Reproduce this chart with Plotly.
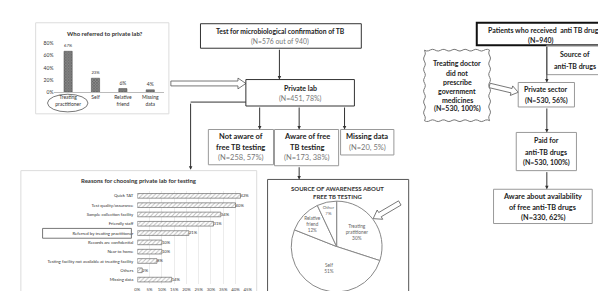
import math
import plotly.graph_objects as go

# ---------------- data ----------------
ref_categories = ["Treating<br>practitioner", "Self", "Relative<br>friend", "Missing<br>data"]
ref_values = [67, 23, 6, 4]
ref_ticks = [0, 20, 40, 60, 80]

reason_categories = [
    "Quick TAT",
    "Test quality/assurance",
    "Sample collection facility",
    "Friendly staff",
    "Referred by treating practitioner",
    "Records are confidential",
    "Near to home",
    "Testing facility not available at treating facility",
    "Others",
    "Missing data",
]
reason_values = [42, 40, 34, 31, 21, 10, 10, 8, 2, 14]
reason_ticks = [0, 5, 10, 15, 20, 25, 30, 35, 40, 45]

source_labels = ["Treating<br>pratitioner", "Self", "Relative<br>friend", "Other"]
source_values = [30, 51, 12, 7]

W, H = 606, 291
FONT = "Lato"

fig = go.Figure()

# ---------------- charts ----------------
fig.add_trace(go.Bar(
    x=ref_categories, y=ref_values, xaxis="x2", yaxis="y2", width=0.3,
    marker=dict(color="#8a8a8a", line=dict(color="#444", width=0.5),
                pattern=dict(shape="x", fgcolor="#333", size=2, solidity=0.5)),
    text=[f"{v}%" for v in ref_values], textposition="outside",
    textfont=dict(size=5, color="#333", family=FONT), cliponaxis=False,
    showlegend=False, hoverinfo="skip",
))

fig.add_trace(go.Bar(
    y=reason_categories, x=reason_values, orientation="h", xaxis="x3", yaxis="y3",
    width=0.5,
    marker=dict(color="white", line=dict(color="#555", width=0.6),
                pattern=dict(shape="/", fgcolor="#777", size=3, solidity=0.3)),
    text=[f"{v}%" for v in reason_values], textposition="outside",
    textfont=dict(size=4.5, color="#333", family=FONT), cliponaxis=False,
    showlegend=False, hoverinfo="skip",
))

fig.add_trace(go.Pie(
    labels=source_labels, values=source_values, sort=False, direction="clockwise",
    rotation=0, text=[f"{l}<br>{v}%" for l, v in zip(source_labels, source_values)],
    textinfo="text", textposition="inside", insidetextorientation="horizontal",
    textfont=dict(size=4.8, color="#666", family=FONT),
    marker=dict(colors=["white"] * 4, line=dict(color="#888", width=1)),
    domain=dict(x=[284 / W, 376 / W], y=[1 - 287 / H, 1 - 194 / H]),
    showlegend=False, hoverinfo="skip",
))

shapes = []
annotations = []


def rect(x0, y0, x1, y1, color="#999", width=1):
    shapes.append(dict(type="rect", xref="x", yref="y", x0=x0, y0=y0, x1=x1, y1=y1,
                       line=dict(color=color, width=width), fillcolor="rgba(0,0,0,0)",
                       layer="above"))


def line(x0, y0, x1, y1, color="#333", width=1):
    shapes.append(dict(type="line", xref="x", yref="y", x0=x0, y0=y0, x1=x1, y1=y1,
                       line=dict(color=color, width=width), layer="above"))


def arrow(x0, y0, x1, y1):
    annotations.append(dict(x=x1, y=y1, ax=x0, ay=y0, xref="x", yref="y", axref="x",
                            ayref="y", showarrow=True, arrowhead=2, arrowsize=0.7,
                            arrowwidth=1, arrowcolor="#333", text=""))


def hollow_arrow(x0, y0, x1, y1, sw=2.5, hw=5.5, hl=8):
    dx, dy = x1 - x0, y1 - y0
    L = math.hypot(dx, dy)
    ux, uy = dx / L, dy / L
    px, py = -uy, ux
    bx, by = x1 - ux * hl, y1 - uy * hl
    pts = [
        (x0 + px * sw, y0 + py * sw), (bx + px * sw, by + py * sw),
        (bx + px * hw, by + py * hw), (x1, y1),
        (bx - px * hw, by - py * hw), (bx - px * sw, by - py * sw),
        (x0 - px * sw, y0 - py * sw),
    ]
    path = "M" + " L".join(f"{a:.2f},{b:.2f}" for a, b in pts) + " Z"
    shapes.append(dict(type="path", xref="x", yref="y", path=path,
                       line=dict(color="#555", width=0.8), fillcolor="white", layer="above"))


def wavy_rect(x0, y0, x1, y1, amp=0.9, wl=11):
    pts = []
    def edge(ax, ay, bx, by):
        L = math.hypot(bx - ax, by - ay)
        n = max(int(L / 2), 2)
        nx, ny = -(by - ay) / L, (bx - ax) / L
        for i in range(n):
            t = i / n
            s = amp * math.sin(2 * math.pi * t * L / wl)
            pts.append((ax + (bx - ax) * t + nx * s, ay + (by - ay) * t + ny * s))
    edge(x0, y0, x1, y0)
    edge(x1, y0, x1, y1)
    edge(x1, y1, x0, y1)
    edge(x0, y1, x0, y0)
    path = "M" + " L".join(f"{a:.2f},{b:.2f}" for a, b in pts) + " Z"
    shapes.append(dict(type="path", xref="x", yref="y", path=path,
                       line=dict(color="#777", width=1), fillcolor="rgba(0,0,0,0)",
                       layer="above"))


def text(x, y, s, size=7, bold=True, color="#222", xanchor="center"):
    if bold:
        s = f"<b>{s}</b>"
    annotations.append(dict(x=x, y=y, xref="x", yref="y", text=s, showarrow=False,
                            xanchor=xanchor, yanchor="middle",
                            font=dict(size=size, color=color, family=FONT)))


# ---------------- left / middle flowchart ----------------
rect(25, 12, 160, 105, "#dcdcdc")
text(95, 23, "Who referred to private lab?", 6, True, "#333")
shapes.append(dict(type="circle", xref="x", yref="y", x0=37, y0=85, x1=78, y1=103,
                   line=dict(color="#555", width=0.8), layer="above"))

hollow_arrow(162, 74, 238, 74)

rect(192, 13, 355, 38, "#333", 1)
text(273, 20, "Test for microbiological confirmation of TB", 6.8)
text(273, 31, "(N=576 out of 940)", 6.8, False, "#777")
arrow(272, 38, 272, 70)

rect(238, 70, 348, 97, "#333", 1)
text(293, 79, "Private lab", 7)
text(293, 89.5, "(N=451, 78%)", 7, False, "#777")

line(238, 93, 182, 93)
arrow(182, 93, 182, 162)
arrow(252, 97, 252, 121)
arrow(292, 97, 292, 121)
arrow(338, 97, 338, 121)

rect(200, 121, 266, 157)
text(233, 128, "Not aware of", 7.5)
text(233, 139, "free TB testing", 7.5)
text(233, 150, "(N=258, 57%)", 7.5, False, "#777")

rect(267, 121, 332, 158)
text(299.5, 128, "Aware of free", 7.5)
text(299.5, 139, "TB testing", 7.5)
text(299.5, 150, "(N=173, 38%)", 7.5, False, "#777")

rect(334, 121, 388, 147)
text(361, 128, "Missing data", 7.5)
text(361, 139, "(N=20, 5%)", 7.5, False, "#777")

arrow(292, 158, 292, 172)

# reasons panel
rect(10, 163, 249, 300, "#dcdcdc")
text(130, 173, "Reasons for choosing private lab for testing", 6, True, "#333")
rect(32, 222, 122, 232, "#555", 0.8)

# pie panel
rect(260, 172, 403, 300, "#555", 1)
text(331, 181, "SOURCE OF AWARENESS ABOUT", 6, True, "#333")
text(331, 189.5, "FREE TB TESTING", 6, True, "#333")
hollow_arrow(394, 196, 367, 212, sw=2.5, hw=5.5, hl=8)

# ---------------- right flowchart ----------------
rect(472, 12, 616, 35, "#111", 2)
text(541, 19, "Patients who received  anti TB drugs", 7)
text(537, 30, "(N=940)", 7)

rect(543, 35, 600, 65)
text(571.5, 44, "Source of", 7)
text(571.5, 56, "anti-TB drugs", 7)
arrow(543, 35, 543, 73)

wavy_rect(419, 40, 485, 112)
for yy, s in zip([53, 63, 73, 82, 91, 100],
                 ["Treating doctor", "did not", "prescribe", "government", "medicines",
                  "(N=530, 100%)"]):
    text(452, yy, s, 7)

hollow_arrow(485, 76, 514, 83, sw=2.3, hw=5, hl=7)

rect(514, 73, 571, 98)
text(542.5, 80, "Private sector", 7)
text(542.5, 91, "(N=530, 56%)", 7)
arrow(543, 98, 543, 124)

rect(512, 124, 573, 163)
text(542.5, 132, "Paid for", 7)
text(542.5, 143.5, "anti-TB drugs", 7)
text(542.5, 155, "(N=530, 100%)", 7)
arrow(543, 163, 543, 182)

rect(489, 182, 589, 217)
text(539, 189.5, "Aware about availability", 7.3)
text(539, 200.5, "of free anti-TB drugs", 7.3)
text(539, 211, "(N=330, 62%)", 7.3)

fig.update_layout(
    width=W, height=H, margin=dict(l=0, r=0, t=0, b=0),
    paper_bgcolor="white", plot_bgcolor="rgba(0,0,0,0)",
    font=dict(family=FONT),
    xaxis=dict(domain=[0, 1], range=[0, W], visible=False, fixedrange=True),
    yaxis=dict(domain=[0, 1], range=[H, 0], visible=False, fixedrange=True),
    xaxis2=dict(domain=[44 / W, 155 / W], anchor="y2", type="category",
                tickfont=dict(size=5, color="#333", family=FONT), showline=True,
                linecolor="#bbb", linewidth=1, ticks="", showgrid=False),
    yaxis2=dict(domain=[1 - 83 / H, 1 - 33 / H], anchor="x2", range=[0, 80],
                tickvals=ref_ticks, ticktext=[f"{t}%" for t in ref_ticks],
                tickfont=dict(size=5, color="#333", family=FONT), showgrid=False,
                zeroline=False, showline=False, ticks=""),
    xaxis3=dict(domain=[128 / W, 240 / W], anchor="y3", range=[0, 45],
                tickvals=reason_ticks, ticktext=[f"{t}%" for t in reason_ticks],
                tickfont=dict(size=4.3, color="#444", family=FONT), showgrid=True,
                gridcolor="#ececec", gridwidth=0.6, zeroline=False, showline=False,
                ticks="", ticklabelstandoff=1),
    yaxis3=dict(domain=[1 - 279 / H, 1 - 184 / H], anchor="x3", type="category",
                autorange="reversed", tickfont=dict(size=4.3, color="#333", family=FONT),
                ticks="", showline=False, showgrid=False, ticklabelstandoff=3),
    shapes=shapes, annotations=annotations,
)

fig.write_html("out.html")
